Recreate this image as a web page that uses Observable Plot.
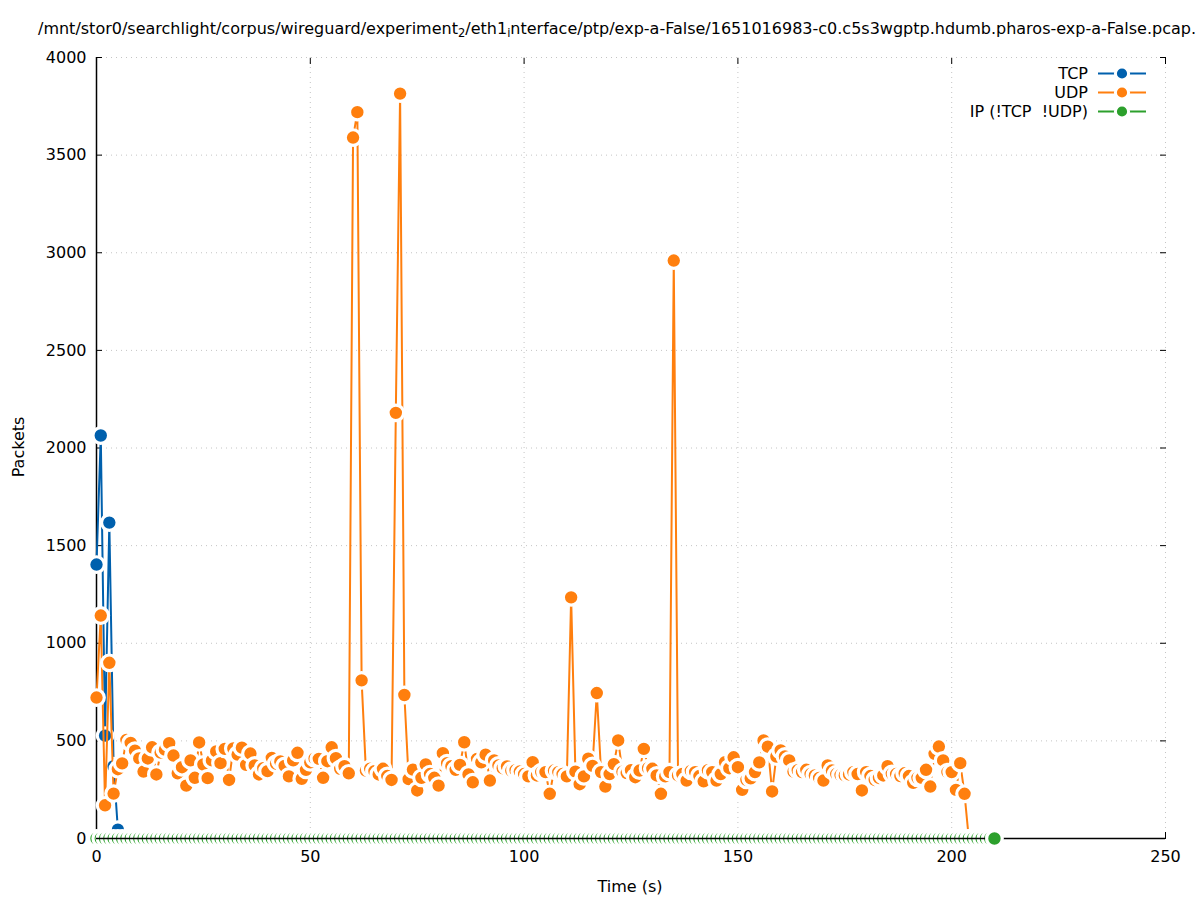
<!DOCTYPE html>
<html>
<head>
<meta charset="utf-8">
<script src="https://cdn.jsdelivr.net/npm/d3@7"></script>
<script src="https://cdn.jsdelivr.net/npm/@observablehq/plot@0.6"></script>
<style>
  body { margin: 0; background: #fff; font-family: "DejaVu Sans", sans-serif; overflow: hidden; }
  #wrap { position: relative; width: 1197px; height: 900px; overflow: hidden; }
  #chart { position: absolute; left: 0; top: 0; }
  #title { position: absolute; left: 38px; top: 20px; font-size: 16px; white-space: nowrap; color: #000; line-height: 18px; }
  #title sub { font-size: 0.72em; vertical-align: -0.3em; line-height: 0; }
  .lbl { position: absolute; font-size: 16px; color: #000; white-space: nowrap; }
  #ylabel { left: 18px; top: 447px; transform: translate(-50%, -50%) rotate(-90deg); }
  #xlabel { left: 630px; top: 886px; transform: translate(-50%, -50%); }
  #legend { position: absolute; right: 50px; top: 64px; font-size: 16px; }
  .row { display: flex; justify-content: flex-end; align-items: center; height: 19px; }
  .row span { margin-right: 9px; white-space: pre; }
</style>
</head>
<body>
<div id="wrap">
  <div id="chart"></div>
  <div id="title">/mnt/stor0/searchlight/corpus/wireguard/experiment<sub>2</sub>/eth1<sub>i</sub>nterface/ptp/exp-a-False/1651016983-c0.c5s3wgptp.hdumb.pharos-exp-a-False.pcap.</div>
  <div id="ylabel" class="lbl">Packets</div>
  <div id="xlabel" class="lbl">Time (s)</div>
  <div id="legend"></div>
</div>
<script>
// ---- data ----
const xDomain = [0, 250];
const yDomain = [0, 4000];
const xTicks = [0, 50, 100, 150, 200, 250];
const yTicks = [0, 500, 1000, 1500, 2000, 2500, 3000, 3500, 4000];
const seriesNames = ["TCP", "UDP", "IP (!TCP  !UDP)"];
const seriesColors = ["#0060ad", "#ff7f0e", "#2ca02c"];

// packets per second, index = time (s)
const tcpPackets = [1403, 2064, 527, 1618, 370, 45];
const udpPackets = [
  722, 1142, 170, 900, 230, 355, 385, 505, 490, 450,
  410, 343, 410, 467, 328, 440, 455, 488, 425, 334,
  365, 271, 400, 311, 492, 379, 309, 400, 446, 386,
  459, 300, 461, 430, 465, 377, 435, 374, 328, 360,
  345, 413, 383, 395, 372, 318, 400, 439, 306, 352,
  390, 410, 408, 311, 396, 467, 411, 357, 370, 334,
  3590, 3720, 810, 348, 358, 345, 328, 357, 320, 300,
  2180, 3815, 735, 304, 353, 246, 311, 379, 330, 311,
  271, 437, 386, 370, 352, 377, 493, 328, 288, 408,
  390, 429, 297, 400, 374, 360, 369, 348, 350, 343,
  330, 318, 391, 323, 340, 340, 229, 348, 340, 330,
  318, 1235, 342, 278, 318, 409, 372, 745, 340, 266,
  330, 381, 502, 342, 335, 350, 314, 348, 459, 360,
  357, 323, 229, 318, 340, 2960, 323, 330, 297, 346,
  340, 320, 293, 350, 340, 297, 330, 391, 360, 416,
  365, 249, 300, 308, 340, 390, 502, 470, 241, 420,
  451, 420, 400, 343, 350, 340, 352, 330, 323, 310,
  297, 374, 348, 330, 325, 323, 328, 340, 330, 246,
  340, 320, 300, 310, 323, 370, 331, 330, 320, 334,
  320, 285, 311, 311, 352, 266, 434, 471, 400, 340,
  340, 249, 386, 229, 0
];
const ipPackets = [
  0,0,0,0,0,0,0,0,0,0, 0,0,0,0,0,0,0,0,0,0,
  0,0,0,0,0,0,0,0,0,0, 0,0,0,0,0,0,0,0,0,0,
  0,0,0,0,0,0,0,0,0,0, 0,0,0,0,0,0,0,0,0,0,
  0,0,0,0,0,0,0,0,0,0, 0,0,0,0,0,0,0,0,0,0,
  0,0,0,0,0,0,0,0,0,0, 0,0,0,0,0,0,0,0,0,0,
  0,0,0,0,0,0,0,0,0,0, 0,0,0,0,0,0,0,0,0,0,
  0,0,0,0,0,0,0,0,0,0, 0,0,0,0,0,0,0,0,0,0,
  0,0,0,0,0,0,0,0,0,0, 0,0,0,0,0,0,0,0,0,0,
  0,0,0,0,0,0,0,0,0,0, 0,0,0,0,0,0,0,0,0,0,
  0,0,0,0,0,0,0,0,0,0, 0,0,0,0,0,0,0,0,0,0,
  0,0,0,0,0,0,0,0,0,0, 0
];

// ---- build ----
const rows = (vals) => vals.map((v, t) => ({t, v}));
const tcp = rows(tcpPackets), udp = rows(udpPackets), ip = rows(ipPackets);

const R = 7.8, HALO = 3.2, LW = 2;
const series = (data, color) => [
  Plot.line(data, {x: "t", y: "v", stroke: color, strokeWidth: LW, strokeLinejoin: "miter"}),
  Plot.dot(data, {x: "t", y: "v", r: R, fill: color, stroke: "white", strokeWidth: HALO})
];

const chart = Plot.plot({
  width: 1197,
  height: 900,
  marginLeft: 96,
  marginRight: 32,
  marginTop: 57,
  marginBottom: 62,
  style: {fontFamily: "DejaVu Sans, sans-serif", fontSize: "16px", color: "#000", background: "#fff"},
  x: {domain: xDomain, ticks: xTicks, tickFormat: d3.format("d")},
  y: {domain: yDomain, ticks: yTicks, tickFormat: d3.format("d")},
  marks: [
    Plot.gridX(xTicks, {stroke: "#c4c4c4", strokeOpacity: 1, strokeDasharray: "1,4"}),
    Plot.gridY(yTicks, {stroke: "#c4c4c4", strokeOpacity: 1, strokeDasharray: "1,4"}),
    Plot.axisX(xTicks, {anchor: "bottom", tickSize: 0, tickPadding: 12, label: null, fontSize: 16, tickFormat: d3.format("d")}),
    Plot.axisY(yTicks, {anchor: "left", tickSize: 0, tickPadding: 10, label: null, fontSize: 16, tickFormat: d3.format("d")}),
    Plot.axisX(xTicks, {anchor: "bottom", tickSize: -6, text: null, label: null}),
    Plot.axisX(xTicks, {anchor: "top", tickSize: -6, text: null, label: null}),
    Plot.axisY(yTicks, {anchor: "left", tickSize: -6, text: null, label: null}),
    Plot.axisY(yTicks, {anchor: "right", tickSize: -6, text: null, label: null}),
    Plot.ruleX([xDomain[0]], {stroke: "#000", strokeWidth: 1.5}),
    ...series(tcp, seriesColors[0]),
    ...series(udp, seriesColors[1]),
    ...series(ip, seriesColors[2]),
    Plot.ruleY([yDomain[0]], {stroke: "#000", strokeWidth: 1.5}),
    Plot.dot(ip, {filter: (d, i) => i === ip.length - 1, x: "t", y: "v", r: R, fill: seriesColors[2], stroke: "white", strokeWidth: HALO})
  ]
});
document.getElementById("chart").appendChild(chart);

// ---- legend ----
const legend = document.getElementById("legend");
seriesNames.forEach((name, i) => {
  const row = document.createElement("div");
  row.className = "row";
  const span = document.createElement("span");
  span.textContent = name;
  row.appendChild(span);
  const svg = d3.create("svg").attr("width", 50).attr("height", 19);
  svg.append("line").attr("x1", 1).attr("x2", 49).attr("y1", 9.5).attr("y2", 9.5)
    .attr("stroke", seriesColors[i]).attr("stroke-width", LW);
  svg.append("circle").attr("cx", 25).attr("cy", 9.5).attr("r", 6.6)
    .attr("fill", seriesColors[i]).attr("stroke", "white").attr("stroke-width", 3);
  row.appendChild(svg.node());
  legend.appendChild(row);
});
</script>
</body>
</html>
